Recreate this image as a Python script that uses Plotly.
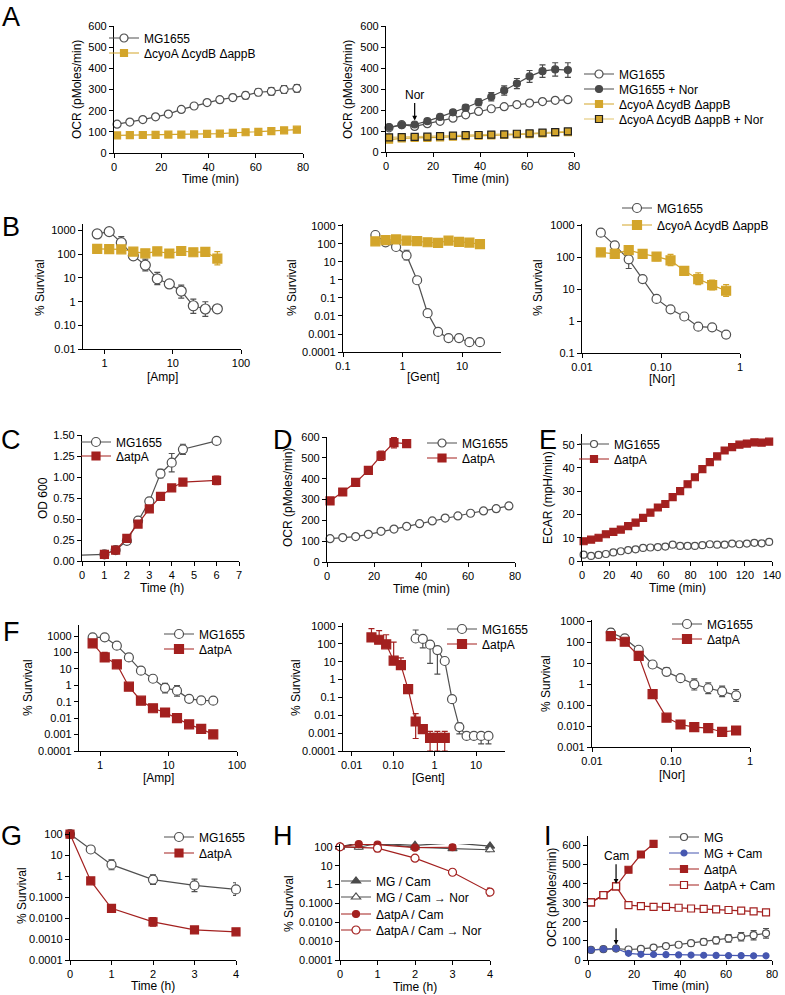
import plotly.graph_objects as go

W, H = 785, 995
FONT = "Liberation Sans, Arial, Helvetica, sans-serif"

GRAY = "#505050"
DARK = "#4a4a4a"
GOLD = "#D3A52B"
GOLD_L = "#E2C36A"
RED = "#A3201F"
BLUE = "#4657B0"

# ---------------- data ----------------
t_ocr = [1.3, 6.7, 12.2, 17.6, 23.0, 28.5, 33.9, 39.4, 44.8, 50.3, 55.7, 61.1, 66.6, 72.0, 77.4]

a1_mg = [136, 146, 158, 171, 184, 206, 222, 238, 252, 262, 272, 287, 291, 300, 305]
a1_mg_err = [6, 6, 6, 6, 6, 8, 10, 12, 14, 15, 16, 16, 18, 18, 18]
a1_cyo = [83, 84, 85, 86, 87, 87, 88, 90, 92, 95, 98, 100, 103, 107, 110]

a2_mg = [115, 130, 122, 135, 146, 161, 177, 193, 206, 216, 226, 233, 240, 246, 249]
a2_mg_nor = [119, 128, 131, 147, 167, 189, 211, 237, 263, 293, 326, 360, 385, 393, 390]
a2_mg_nor_err = [8, 8, 8, 8, 10, 12, 14, 16, 20, 22, 24, 28, 30, 32, 35]
a2_cyo = [59, 65, 67, 67, 70, 73, 76, 78, 79, 81, 84, 85, 89, 93, 95]
a2_cyo_nor = [70, 71, 72, 73, 76, 78, 80, 81, 83, 84, 87, 89, 92, 95, 98]

amp = [0.78, 1.17, 1.76, 2.64, 3.96, 5.93, 8.9, 13.3, 20, 30, 45]
gent = [0.35, 0.52, 0.78, 1.17, 1.76, 2.64, 3.96, 5.93, 8.9, 13.3, 20]
gent_atp = [0.030, 0.046, 0.068, 0.103, 0.154, 0.23, 0.35, 0.52, 0.78, 1.17, 1.76]
nor = [0.0173, 0.026, 0.039, 0.0585, 0.0878, 0.132, 0.197, 0.296, 0.444, 0.667]

b1_mg = [725, 905, 310, 86, 35, 9.2, 5.6, 2.8, 0.67, 0.49, 0.50]
b1_mg_ep = [0, 0, 250, 0, 28, 8, 0, 2.2, 0.6, 0.5, 0]
b1_mg_em = [0, 0, 130, 0, 15, 4, 0, 1.4, 0.35, 0.25, 0]
b1_cyo = [170, 165, 163, 130, 110, 134, 108, 138, 122, 126, 66]
b1_cyo_ep = [20, 20, 40, 30, 10, 10, 10, 15, 10, 10, 65]
b1_cyo_em = [15, 15, 30, 25, 10, 10, 10, 15, 10, 10, 30]

b2_mg = [316, 123, 68, 23, 0.97, 0.0144, 0.0013, 0.00059, 0.00059, 0.00035, 0.00035]
b2_mg_ep = [0, 0, 0, 22, 0, 0, 0, 0.0003, 0.0003, 0, 0]
b2_mg_em = [0, 0, 0, 10, 0, 0, 0, 0.0002, 0.0002, 0, 0]
b2_cyo = [140, 165, 178, 155, 145, 125, 115, 155, 130, 120, 97]
b2_cyo_e = [30, 20, 40, 40, 50, 15, 10, 30, 20, 40, 15]

b3_mg = [600, 240, 87, 21, 5.0, 2.35, 1.4, 0.67, 0.64, 0.38]
b3_mg_ep = [120, 0, 80, 0, 0.8, 0, 0, 0, 0, 0]
b3_mg_em = [100, 0, 42, 0, 0.7, 0, 0, 0, 0, 0]
b3_cyo = [145, 130, 170, 130, 106, 81, 38, 21, 13.5, 9.0]
b3_cyo_ep = [0, 50, 30, 0, 34, 44, 0, 12, 6, 5]
b3_cyo_em = [0, 30, 30, 0, 26, 26, 0, 7, 4, 3]

t_c = [0, 1, 1.5, 2, 2.5, 3, 3.5, 4, 4.5, 6]
c_mg = [0.07, 0.08, 0.13, 0.24, 0.48, 0.71, 1.04, 1.17, 1.33, 1.43]
c_mg_err = [0, 0.01, 0.01, 0.01, 0.03, 0.02, 0.05, 0.11, 0.06, 0.04]
c_atp = [0.07, 0.08, 0.13, 0.27, 0.44, 0.62, 0.77, 0.87, 0.94, 0.96]
c_atp_err = [0, 0.01, 0.01, 0.02, 0.02, 0.02, 0.02, 0.02, 0.02, 0.05]

d_atp = [293, 336, 382, 440, 510, 573, 568]
d_atp_err = [15, 15, 15, 18, 22, 25, 18]
d_mg = [112, 117, 122, 133, 147, 158, 171, 184, 197, 211, 221, 234, 245, 256, 269]
d_mg_err = [5, 5, 5, 5, 5, 5, 5, 5, 5, 6, 8, 10, 12, 14, 15]

t_ecar = [1.2, 6.7, 12.2, 17.6, 23.1, 28.6, 34.0, 39.5, 45.0, 50.4, 55.9, 61.4, 66.8,
          72.3, 77.8, 83.2, 88.7, 94.2, 99.6, 105.1, 110.6, 116.0, 121.5, 127.0, 132.4, 137.9]
e_atp = [8.5, 9.2, 10.0, 11.5, 12.5, 13.5, 15.0, 16.5, 18.5, 20.8, 23.0, 24.5, 27.5,
         30.0, 33.0, 36.0, 39.5, 42.5, 45.0, 47.5, 49.0, 50.0, 50.5, 51.0, 50.9, 51.3]
e_atp_err = [0.8] * 26
e_mg = [2.7, 2.2, 2.6, 3.0, 3.7, 4.2, 4.7, 5.0, 5.6, 5.8, 6.0, 6.2, 7.0,
        6.5, 6.5, 6.5, 6.8, 7.2, 7.0, 7.0, 7.5, 7.2, 7.5, 7.8, 7.6, 8.2]

f1_mg = [830, 830, 258, 50, 7.8, 2.5, 0.69, 0.47, 0.15, 0.12, 0.115]
f1_mg_ep = [0, 0, 0, 0, 4, 1.5, 0.6, 0.5, 0, 0, 0]
f1_mg_em = [0, 0, 0, 0, 2.3, 0.7, 0.34, 0.25, 0, 0, 0]
f1_atp = [357, 50, 19, 0.82, 0.115, 0.04, 0.022, 0.010, 0.0042, 0.0022, 0.00103]
f1_atp_ep = [100, 50, 5, 0, 0, 0, 0, 0, 0, 0.001, 0.0005]
f1_atp_em = [60, 22, 4, 0, 0, 0, 0, 0, 0, 0.0007, 0.0003]

f2_atp = [230, 170, 95, 11.5, 6.5, 0.29, 0.0045, 0.0017, 0.00055, 0.00055, 0.00055]
f2_atp_ep = [480, 380, 230, 115, 10, 0, 0.008, 0, 0.0007, 0.0007, 0.0007]
f2_atp_em = [0, 0, 0, 0, 0, 0, 0.004, 0, 0.00045, 0.00045, 0.00045]
f2_mg = [200, 190, 90, 45, 11, 0.08, 0.0022, 0.0007, 0.0007, 0.0007, 0.0007]
f2_mg_ep = [400, 0, 0, 0, 0, 0.02, 0.0015, 0, 0, 0.0003, 0.0003]
f2_mg_em = [0, 130, 82, 43, 0, 0, 0.0013, 0, 0, 0.00045, 0.00045]

f3_mg = [282, 148, 43, 8.5, 3.8, 1.9, 0.97, 0.63, 0.45, 0.29]
f3_mg_ep = [150, 50, 0, 3.5, 2.2, 0, 0.8, 0.5, 0.35, 0.26]
f3_mg_em = [80, 40, 0, 2.5, 1.3, 0, 0.45, 0.28, 0.2, 0.14]
f3_atp = [190, 103, 22, 0.33, 0.025, 0.0118, 0.0089, 0.0080, 0.0052, 0.0061]

t_g = [0, 0.5, 1, 2, 3, 4]
g_mg = [100, 18.5, 3.5, 0.68, 0.36, 0.23]
g_mg_ep = [0, 0, 2.5, 0.45, 0.35, 0.25]
g_mg_em = [0, 0, 1.5, 0.28, 0.18, 0.11]
g_atp = [100, 0.59, 0.029, 0.0066, 0.0027, 0.0022]
g_atp_ep = [0, 0.1, 0.004, 0.004, 0.0005, 0.0004]
g_atp_em = [0, 0.1, 0.004, 0.0025, 0.0004, 0.0003]

t_h = [0, 0.5, 1, 2, 3, 4]
h_mg_cam = [100, 165, 150, 120, 160, 110]
h_mg_cam_ep = [0, 30, 20, 20, 25, 40]
h_mg_cam_nor = [100, 95, 150, 95, 80, 70]
h_mg_cam_nor_ep = [0, 20, 20, 15, 15, 15]
h_atp_cam = [100, 140, 130, 90, 95]
t_h2 = [0, 1, 2, 3, 4]
h_atp_cam_nor = [100, 85, 25, 4.5, 0.4]
h_atp_cam_nor_ep = [0, 30, 4, 0.8, 0.25]
h_atp_cam_nor_em = [0, 30, 4, 0.8, 0.15]

i_atp = [302, 340, 386, 473, 553, 609]
i_atp_err = [8, 8, 10, 10, 12, 12]
i_atp_cam = [302, 340, 386, 288, 282, 279, 278, 274, 270, 268, 265, 262, 259, 255, 250]
i_mg = [53, 57, 60, 55, 58, 65, 73, 80, 88, 95, 103, 113, 122, 130, 140]
i_mg_err = [5, 5, 5, 5, 6, 8, 10, 12, 14, 16, 18, 20, 22, 24, 25]
i_mg_cam = [53, 57, 60, 35, 30, 29, 28, 27, 26, 25, 24, 23, 23, 22, 22]

# ---------------- helpers ----------------
fig = go.Figure()
layout = {}
annotations = []
_leg = [0]


def X(p):
    return p / W


def Y(p):
    return 1 - p / H


def axpair(i, x0, x1, ytop, ybot, xr, yr, xt, xl, yt, yl, xtype="linear", ytype="linear"):
    s = "" if i == 1 else str(i)
    common = dict(showline=True, linecolor="black", linewidth=1.2, ticks="outside", ticklen=4,
                  tickwidth=1.2, tickcolor="black", showgrid=False, zeroline=False,
                  tickfont=dict(family=FONT, size=11, color="black"), fixedrange=True,
                  tickmode="array", automargin=False)
    layout["xaxis" + s] = dict(domain=[X(x0), X(x1)], range=xr, type=xtype, anchor="y" + s,
                               tickvals=xt, ticktext=xl, **common)
    layout["yaxis" + s] = dict(domain=[Y(ybot), Y(ytop)], range=yr, type=ytype, anchor="x" + s,
                               tickvals=yt, ticktext=yl, **common)
    return ("x" + s, "y" + s)


STYLES = {
    "open": dict(symbol="circle", fill="white", edge=GRAY, line=GRAY),
    "dark": dict(symbol="circle", fill=DARK, edge=DARK, line=DARK),
    "gold": dict(symbol="square", fill=GOLD, edge=GOLD, line=GOLD),
    "gold_edge": dict(symbol="square", fill=GOLD, edge="#222", line=GOLD_L),
    "red": dict(symbol="square", fill=RED, edge=RED, line=RED),
    "red_open_sq": dict(symbol="square", fill="white", edge=RED, line=RED),
    "red_dot": dict(symbol="circle", fill=RED, edge=RED, line=RED),
    "red_open": dict(symbol="circle", fill="white", edge=RED, line=RED),
    "tri": dict(symbol="triangle-up", fill=DARK, edge=DARK, line=DARK),
    "tri_open": dict(symbol="triangle-up", fill="white", edge=GRAY, line=GRAY),
    "blue": dict(symbol="circle", fill=BLUE, edge=BLUE, line=BLUE),
}


def new_legend(mx, my):
    """One legend per entry so that rows can be spaced like the original."""
    _leg[0] += 1
    n = _leg[0]
    key = "legend" if n == 1 else f"legend{n}"
    layout[key] = dict(x=X(mx - 26), y=Y(my), xanchor="left", yanchor="middle",
                       font=dict(family=FONT, size=12, color="black"),
                       bgcolor="rgba(0,0,0,0)", borderwidth=0, itemclick=False,
                       itemdoubleclick=False)
    return key


def series(ax, x, y, name, style, size, leg=None, ep=None, em=None, mode="lines+markers"):
    st = STYLES[style]
    tr = dict(x=x, y=y, xaxis=ax[0], yaxis=ax[1], mode=mode, name=name,
              line=dict(color=st["line"], width=1.2),
              marker=dict(symbol=st["symbol"], size=size, color=st["fill"],
                          line=dict(color=st["edge"], width=1.2)),
              cliponaxis=False, hoverinfo="skip")
    if ep is not None:
        tr["error_y"] = dict(type="data", array=ep, arrayminus=em if em is not None else ep,
                             symmetric=False, color=st["line"], thickness=1.2, width=3)
    if leg is not None:
        tr["legend"] = new_legend(*leg)
        tr["showlegend"] = True
    else:
        tr["showlegend"] = False
    fig.add_trace(go.Scatter(**tr))


def text(xpx, ypx, s, size=12, angle=0):
    annotations.append(dict(x=X(xpx), y=Y(ypx), xref="paper", yref="paper", text=s,
                            showarrow=False, textangle=angle, xanchor="center", yanchor="middle",
                            font=dict(family=FONT, size=size, color="black")))


def letter(xpx, ypx, s):
    text(xpx, ypx, s, size=27)


LOG_LBL = {1e-4: "0.0001", 1e-3: "0.001", 1e-2: "0.01", 0.1: "0.1", 1: "1", 10: "10",
           100: "100", 1000: "1000"}
T80 = [0, 20, 40, 60, 80]
O600 = [0, 100, 200, 300, 400, 500, 600]

# ---------------- Panel A ----------------
axA1 = axpair(1, 114, 303, 26, 153, [0, 80], [0, 600], T80, [str(v) for v in T80],
              O600, [str(v) for v in O600])
series(axA1, t_ocr, a1_mg, "MG1655", "open", 8, (130, 38), a1_mg_err)
series(axA1, t_ocr, a1_cyo, "ΔcyoA ΔcydB ΔappB", "gold", 7, (130, 53))

axA2 = axpair(2, 386, 574, 26, 152, [0, 80], [0, 600], T80, [str(v) for v in T80],
              O600, [str(v) for v in O600])
series(axA2, t_ocr, a2_mg, "MG1655", "open", 8, (605, 74))
series(axA2, t_ocr, a2_mg_nor, "MG1655 + Nor", "dark", 7, (605, 89), a2_mg_nor_err)
series(axA2, t_ocr, a2_cyo, "ΔcyoA ΔcydB ΔappB", "gold", 7, (605, 104))
series(axA2, t_ocr, a2_cyo_nor, "ΔcyoA ΔcydB ΔappB + Nor", "gold_edge", 7, (605, 119))
annotations.append(dict(x=12.2, y=150, xref="x2", yref="y2", text="Nor", showarrow=True,
                        arrowhead=2, arrowsize=0.8, arrowwidth=1.2, arrowcolor="black", ax=0, ay=-26,
                        font=dict(family=FONT, size=12, color="black")))

# ---------------- Panel B ----------------
yt = [0.01, 0.1, 1, 10, 100, 1000]
axB1 = axpair(3, 83, 241, 224, 349, [-0.316, 2.0], [-2, 3.28], [1, 10, 100], ["1", "10", "100"],
              yt, ["0.01", "0.10", "1", "10", "100", "1000"], "log", "log")
series(axB1, amp, b1_mg, "MG1655", "open", 10, None, b1_mg_ep, b1_mg_em)
series(axB1, amp, b1_cyo, "ΔcyoA ΔcydB ΔappB", "gold", 9, None, b1_cyo_ep, b1_cyo_em)

yt = [1e-4, 1e-3, 1e-2, 0.1, 1, 10, 100, 1000]
axB2 = axpair(4, 343, 501, 224, 352, [-1, 1.655], [-4, 3.11], [0.1, 1, 10], ["0.1", "1", "10"],
              yt, [LOG_LBL[v] for v in yt], "log", "log")
series(axB2, gent, b2_mg, "MG1655", "open", 9, None, b2_mg_ep, b2_mg_em)
series(axB2, gent, b2_cyo, "ΔcyoA ΔcydB ΔappB", "gold", 9, None, b2_cyo_e)

yt = [0.1, 1, 10, 100, 1000]
axB3 = axpair(5, 582, 740, 224, 353, [-2, 0], [-1, 3.05], [0.01, 0.1, 1], ["0.01", "0.10", "1"],
              yt, ["0.1", "1", "10", "100", "1000"], "log", "log")
series(axB3, nor, b3_mg, "MG1655", "open", 9, (643, 208), b3_mg_ep, b3_mg_em)
series(axB3, nor, b3_cyo, "ΔcyoA ΔcydB ΔappB", "gold", 9, (643, 225), b3_cyo_ep, b3_cyo_em)

# ---------------- Panel C, D, E ----------------
axC = axpair(6, 82, 239, 435, 561, [0, 7], [0, 1.5], list(range(8)), [str(v) for v in range(8)],
             [0, 0.25, 0.5, 0.75, 1.0, 1.25, 1.5], ["0.00", "0.25", "0.50", "0.75", "1.00", "1.25", "1.50"])
series(axC, t_c[:2], c_mg[:2], "start", "open", 9, mode="lines")
series(axC, t_c[1:], c_mg[1:], "MG1655", "open", 9, (102, 442), c_mg_err[1:])
series(axC, t_c[1:], c_atp[1:], "ΔatpA", "red", 8, (102, 456), c_atp_err[1:])

axD = axpair(7, 327, 515, 437, 562, [0, 80], [0, 600], T80, [str(v) for v in T80],
             O600, [str(v) for v in O600])
series(axD, t_ocr, d_mg, "MG1655", "open", 8, (448, 443), d_mg_err)
series(axD, t_ocr[:7], d_atp, "ΔatpA", "red", 8, (448, 458), d_atp_err)

axE = axpair(8, 582, 772, 434, 561, [0, 140], [0, 54.6], list(range(0, 141, 20)),
             [str(v) for v in range(0, 141, 20)], [0, 10, 20, 30, 40, 50], ["0", "10", "20", "30", "40", "50"])
series(axE, t_ecar, e_mg, "MG1655", "open", 7, (600, 444))
series(axE, t_ecar, e_atp, "ΔatpA", "red", 7, (600, 459), e_atp_err)

# ---------------- Panel F ----------------
yt = [1e-4, 1e-3, 1e-2, 0.1, 1, 10, 100, 1000]
axF1 = axpair(9, 79, 237, 625, 751, [-0.307, 2.0], [-4, 3.67], [1, 10, 100], ["1", "10", "100"],
              yt, [LOG_LBL[v] for v in yt], "log", "log")
series(axF1, amp, f1_mg, "MG1655", "open", 9, (185, 634), f1_mg_ep, f1_mg_em)
series(axF1, amp, f1_atp, "ΔatpA", "red", 9, (185, 649), f1_atp_ep, f1_atp_em)

axF2 = axpair(10, 343, 505, 623, 751, [-2.21, 1.70], [-4, 3.17], [0.01, 0.1, 1, 10],
              ["0.01", "0.10", "1", "10"], yt, [LOG_LBL[v] for v in yt], "log", "log")
series(axF2, gent, f2_mg, "MG1655", "open", 9, (468, 629), f2_mg_ep, f2_mg_em)
series(axF2, gent_atp, f2_atp, "ΔatpA", "red", 9, (468, 644), f2_atp_ep, f2_atp_em)

yt = [1e-3, 1e-2, 0.1, 1, 10, 100, 1000]
axF3 = axpair(11, 592, 750, 620, 747, [-2, 0], [-3, 3.05], [0.01, 0.1, 1], ["0.01", "0.10", "1"],
              yt, ["0.001", "0.010", "0.100", "1", "10", "100", "1000"], "log", "log")
series(axF3, nor, f3_mg, "MG1655", "open", 9, (693, 624), f3_mg_ep, f3_mg_em)
series(axF3, nor, f3_atp, "ΔatpA", "red", 9, (693, 639))

# ---------------- Panel G, H, I ----------------
yt = [1e-4, 1e-3, 1e-2, 0.1, 1, 10, 100]
ylab = ["0.0001", "0.0010", "0.0100", "0.1000", "1", "10", "100"]
axG = axpair(12, 70, 236, 832, 960, [0, 4], [-4, 2.1], [0, 1, 2, 3, 4], ["0", "1", "2", "3", "4"],
             yt, ylab, "linear", "log")
series(axG, t_g, g_mg, "MG1655", "open", 9, (185, 837), g_mg_ep, g_mg_em)
series(axG, t_g, g_atp, "ΔatpA", "red", 8, (185, 853), g_atp_ep, g_atp_em)

axH = axpair(13, 340, 490, 844, 960, [0, 4], [-4, 2.15], [0, 1, 2, 3, 4], ["0", "1", "2", "3", "4"],
             yt, ylab, "linear", "log")
series(axH, t_h, h_mg_cam, "MG / Cam", "tri", 8, (362, 881), h_mg_cam_ep)
series(axH, t_h, h_mg_cam_nor, "MG / Cam → Nor", "tri_open", 8, (362, 897), h_mg_cam_nor_ep)
series(axH, t_h[:5], h_atp_cam, "ΔatpA / Cam", "red_dot", 7, (362, 914))
series(axH, t_h2, h_atp_cam_nor, "ΔatpA / Cam → Nor", "red_open", 8, (362, 930),
       h_atp_cam_nor_ep, h_atp_cam_nor_em)

axI = axpair(14, 588, 772, 836, 960, [0, 80], [0, 650], T80, [str(v) for v in T80],
             O600, [str(v) for v in O600])
series(axI, t_ocr, i_mg, "MG", "open", 7, (690, 837), i_mg_err)
series(axI, t_ocr, i_mg_cam, "MG + Cam", "blue", 6, (690, 853))
series(axI, t_ocr[:6], i_atp, "ΔatpA", "red", 7, (690, 869), i_atp_err)
series(axI, t_ocr, i_atp_cam, "ΔatpA + Cam", "red_open_sq", 7, (690, 885))
annotations.append(dict(x=12.2, y=400, xref="x14", yref="y14", text="Cam", showarrow=True,
                        arrowhead=2, arrowsize=0.8, arrowwidth=1.2, arrowcolor="black", ax=0, ay=-28,
                        font=dict(family=FONT, size=12, color="black")))
annotations.append(dict(x=12.2, y=80, xref="x14", yref="y14", text="", showarrow=True,
                        arrowhead=2, arrowsize=0.8, arrowwidth=1.2, arrowcolor="black", ax=0, ay=-18))

# ---------------- titles & letters ----------------
text(77, 90, "OCR (pMoles/min)", 12, -90)
text(210, 179, "Time (min)")
text(348, 90, "OCR (pMoles/min)", 12, -90)
text(480, 179, "Time (min)")

text(40, 288, "% Survival", 12, -90)
text(162, 377, "[Amp]")
text(292, 288, "% Survival", 12, -90)
text(423, 377, "[Gent]")
text(538, 288, "% Survival", 12, -90)
text(662, 379, "[Nor]")

text(43, 498, "OD 600", 12, -90)
text(162, 588, "Time (h)")
text(288, 498, "OCR (pMoles/min)", 12, -90)
text(421, 589, "Time (min)")
text(548, 498, "ECAR (mpH/min)", 12, -90)
text(677, 588, "Time (min)")

text(28, 688, "% Survival", 12, -90)
text(158, 778, "[Amp]")
text(296, 688, "% Survival", 12, -90)
text(428, 778, "[Gent]")
text(546, 684, "% Survival", 12, -90)
text(672, 775, "[Nor]")

text(22, 896, "% Survival", 12, -90)
text(153, 986, "Time (h)")
text(289, 904, "% Survival", 12, -90)
text(415, 987, "Time (h)")
text(552, 898, "OCR (pMoles/min)", 12, -90)
text(680, 986, "Time (min)")

letter(11, 17, "A")
letter(11, 227, "B")
letter(11, 440, "C")
letter(283, 440, "D")
letter(548, 440, "E")
letter(11, 632, "F")
letter(11, 836, "G")
letter(283, 836, "H")
letter(548, 836, "I")

layout["annotations"] = annotations
fig.update_layout(width=W, height=H, margin=dict(l=0, r=0, t=0, b=0, autoexpand=False),
                  paper_bgcolor="white", plot_bgcolor="white",
                  font=dict(family=FONT, size=12, color="black"), **layout)
fig.write_html("out.html", config={"displayModeBar": False},
               post_script="document.body.style.margin='0px';document.body.style.overflow='hidden';")
